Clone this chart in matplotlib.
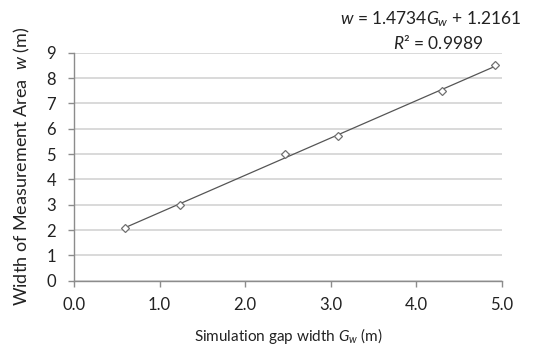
import matplotlib
matplotlib.use("Agg")
import matplotlib.pyplot as plt
import numpy as np

plt.rcParams['font.family'] = ['Lato', 'DejaVu Sans']
plt.rcParams['mathtext.fontset'] = 'custom'
plt.rcParams['mathtext.rm'] = 'Lato'
plt.rcParams['mathtext.it'] = 'Lato:italic'

gap_width = [0.6, 1.24, 2.47, 3.08, 4.30, 4.92]
meas_width = [2.1, 3.0, 5.0, 5.7, 7.5, 8.5]
slope = 1.4734
intercept = 1.2161
x_ticks = [0.0, 1.0, 2.0, 3.0, 4.0, 5.0]
y_ticks = [0, 1, 2, 3, 4, 5, 6, 7, 8, 9]

fig = plt.figure(figsize=(5.38, 3.47), dpi=100)
ax = fig.add_axes([0.1375, 0.191, 0.7955, 0.657])

xs = np.array([min(gap_width), max(gap_width)])
ax.plot(xs, slope * xs + intercept, color='#555555', lw=0.9, zorder=3)
ax.plot(gap_width, meas_width, linestyle='none', marker='D', markersize=4,
        markerfacecolor='white', markeredgecolor='#707070', markeredgewidth=0.9, zorder=4)

ax.set_xlim(0, 5)
ax.set_ylim(0, 9)
ax.set_xticks(x_ticks)
ax.set_xticklabels([f"{v:.1f}" for v in x_ticks])
ax.set_yticks(y_ticks)
ax.yaxis.grid(True, color='#d9d9d9', lw=1.4)
ax.set_axisbelow(True)
for s in ['top', 'right']:
    ax.spines[s].set_visible(False)
for s in ['left', 'bottom']:
    ax.spines[s].set_color('#8c8c8c')
    ax.spines[s].set_linewidth(1.0)
ax.tick_params(axis='both', colors='#8c8c8c', length=4, width=1.0, labelsize=12,
               labelcolor='#222222', direction='out')
ax.tick_params(axis='x', pad=8)
ax.tick_params(axis='y', pad=9)

ax.set_xlabel(r"Simulation gap width $G_w$ (m)", fontsize=11, color='#222222', labelpad=9)
ax.set_ylabel(r"Width of Measurement Area  $w$ (m)", fontsize=13, color='#222222', labelpad=10)

fig.text(0.968, 0.946, r"$w$ = 1.4734$G_w$ + 1.2161", ha='right', va='center',
         fontsize=12.5, color='#222222')
fig.text(0.815, 0.876, r"$R$² = 0.9989", ha='center', va='center',
         fontsize=12.5, color='#222222')

fig.savefig("out.png", dpi=100)
